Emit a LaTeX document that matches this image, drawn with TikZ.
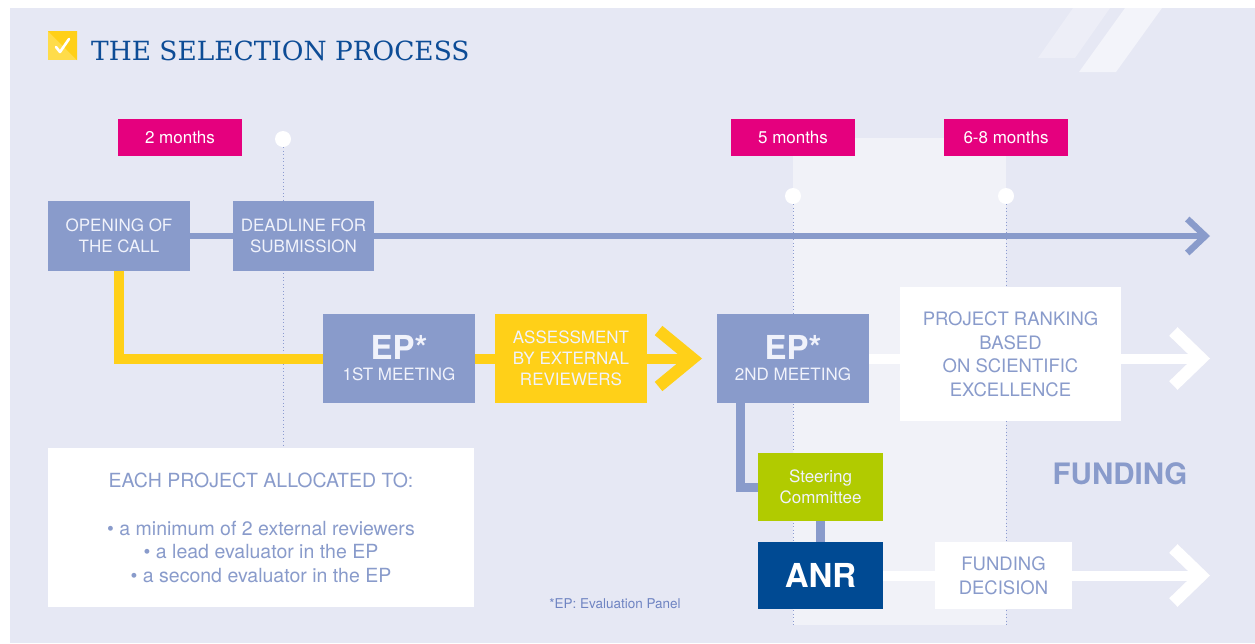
\documentclass[tikz,border=0pt]{standalone}
\usepackage{fontspec}
\setmainfont{TeX Gyre Heros}
\newfontfamily\titlefont{DejaVu Serif}
\usetikzlibrary{arrows.meta}

\definecolor{bgLav}{HTML}{E6E8F4}
\definecolor{panelLav}{HTML}{F1F2F8}
\definecolor{stripeA}{HTML}{EDEEF7}
\definecolor{stripeB}{HTML}{F3F4FA}
\definecolor{boxBlue}{HTML}{899BCB}
\definecolor{epYellow}{HTML}{FFD018}
\definecolor{checkYellow}{HTML}{FFDC4A}
\definecolor{monthPink}{HTML}{E5007E}
\definecolor{scGreen}{HTML}{B1CB00}
\definecolor{anrBlue}{HTML}{004A93}
\definecolor{titleBlue}{HTML}{0D4C96}
\definecolor{boxText}{HTML}{F0F2FB}
\definecolor{noteBlue}{HTML}{6F84C2}
\definecolor{dotLine}{HTML}{8C9BD0}

\pgfdeclarelayer{background}
\pgfsetlayers{background,main}

\begin{document}
\begin{tikzpicture}[x=1pt, y=-1pt,
  box/.style={fill=boxBlue, text=boxText, inner sep=0pt, align=center,
    font=\fontsize{17}{21}\selectfont},
  whitebox/.style={box, fill=white, text=boxBlue,
    font=\fontsize{18.5}{23.5}\selectfont},
  month/.style={fill=monthPink, text=white, inner sep=0pt,
    minimum width=124pt, minimum height=37pt, font=\fontsize{17}{21}\selectfont},
  tdot/.style={circle, fill=white, minimum size=16pt, inner sep=0pt},
  guide/.style={dotLine, line width=0.9pt, dash pattern=on 0.9pt off 2.6pt},
  tline/.style={boxBlue, line width=6.5pt},
  yline/.style={epYellow, line width=10pt},
  bline/.style={boxBlue, line width=9pt},
  wline/.style={white, line width=10pt}]

\useasboundingbox (0,0) rectangle (1255,643);

% title
\fill[checkYellow] (48,31) rectangle (77,60);
\fill[epYellow] (48,31) -- (77,31) -- (77,60) -- (62,45) -- cycle;
\draw[white, line width=2.6pt, line cap=round, line join=round] (56,47) -- (60,52) -- (69,39);
\node[anchor=base west, inner sep=0pt, text=titleBlue, font=\titlefont\fontsize{26.4}{30}\selectfont] (title) at (91,60) {THE SELECTION PROCESS};

% boxes
\node[box, minimum width=142pt, minimum height=70pt] (open) at (119,236) {OPENING OF\\THE CALL};
\node[box, minimum width=141pt, minimum height=70pt] (deadline) at (303.5,236) {DEADLINE FOR\\SUBMISSION};
\node[box, minimum width=152pt, minimum height=89pt] (ep1) at (399,358.5) {{\fontsize{33}{33}\selectfont\bfseries EP*}\\1ST MEETING};
\node[box, fill=epYellow, minimum width=152pt, minimum height=89pt] (assess) at (571,358.5) {ASSESSMENT\\BY EXTERNAL\\REVIEWERS};
\node[box, minimum width=152pt, minimum height=89pt] (ep2) at (793,358.5) {{\fontsize{33}{33}\selectfont\bfseries EP*}\\2ND MEETING};
\node[whitebox, minimum width=221pt, minimum height=134pt] (rank) at (1010.5,354) {PROJECT RANKING\\BASED\\ON SCIENTIFIC\\EXCELLENCE};
\node[box, fill=scGreen, minimum width=125pt, minimum height=68pt] (steer) at (820.5,487) {Steering\\Committee};
\node[box, fill=anrBlue, text=white, minimum width=125pt, minimum height=67pt, font=\fontsize{33}{33}\selectfont\bfseries] (anr) at (820.5,575.5) {ANR};
\node[whitebox, minimum width=137pt, minimum height=67pt] (fdec) at (1003.5,575.5) {FUNDING\\DECISION};
\node[whitebox, minimum width=426pt, minimum height=159pt, font=\fontsize{19.5}{23.5}\selectfont] (alloc) at (261,527.5)
  {EACH PROJECT ALLOCATED TO:\\[24.5pt]\textbullet\ a minimum of 2 external reviewers\\\textbullet\ a lead evaluator in the EP\\\textbullet\ a second evaluator in the EP};
\node[text=boxBlue, font=\fontsize{29.5}{30}\selectfont\bfseries] (funding) at (1120,474) {FUNDING};
\node[text=noteBlue, font=\fontsize{13.5}{16}\selectfont] (note) at (615,604) {*EP: Evaluation Panel};

% months and dots
\node[month] (m2) at (180,137.5) {2 months};
\node[month] (m5) at (793,137.5) {5 months};
\node[month] (m68) at (1006,137.5) {6-8 months};
\node[tdot] (d1) at (283,139) {};
\node[tdot] (d2) at (793,196) {};
\node[tdot] (d3) at (1006,196) {};

\coordinate (ttip) at (1210,236);
\coordinate (ytip) at (702,358.5);
\coordinate (rtip) at (1210,358.5);
\coordinate (ftip) at (1210,575.5);
\coordinate (p2) at (793,625);
\coordinate (p3) at (1006,625);

% connectors
\draw[tline] (open.east) -- (deadline.west);
\draw[tline, -{Straight Barb[length=18pt,width=34pt]}] (deadline.east) -- (ttip);
\draw[yline] (open.south) |- (ep1.west);
\draw[yline] (ep1.east) -- (assess.west);
\draw[yline, -{Straight Barb[length=34pt,width=56pt,line width=12pt]}] (assess.east) -- (ytip);
\draw[wline] (ep2.east) -- (ep2.east -| rank.west);
\draw[wline, -{Straight Barb[length=28pt,width=54pt,line width=12pt]}] (rank.east |- rtip) -- (rtip);
\draw[bline] ([xshift=-52.5pt]ep2.south) |- (steer.west);
\draw[bline] (steer) -- (anr);
\draw[wline] (anr.east) -- (fdec.west);
\draw[wline, -{Straight Barb[length=28pt,width=54pt,line width=12pt]}] (fdec.east) -- (ftip);

\begin{pgfonlayer}{background}
\fill[bgLav] (10,8) rectangle (1255,643);
\fill[stripeA] (1073,8) -- (1110,8) -- (1075,58) -- (1038,58) -- cycle;
\fill[stripeB] (1125,8) -- (1162,8) -- (1116,72) -- (1079,72) -- cycle;
\fill[panelLav] (793,138) rectangle (1006,625);
\draw[guide] (d1) -- (d1 |- alloc.north);
\draw[guide] (d2) -- (p2);
\draw[guide] (d3) -- (p3);
\end{pgfonlayer}

\end{tikzpicture}
\end{document}
